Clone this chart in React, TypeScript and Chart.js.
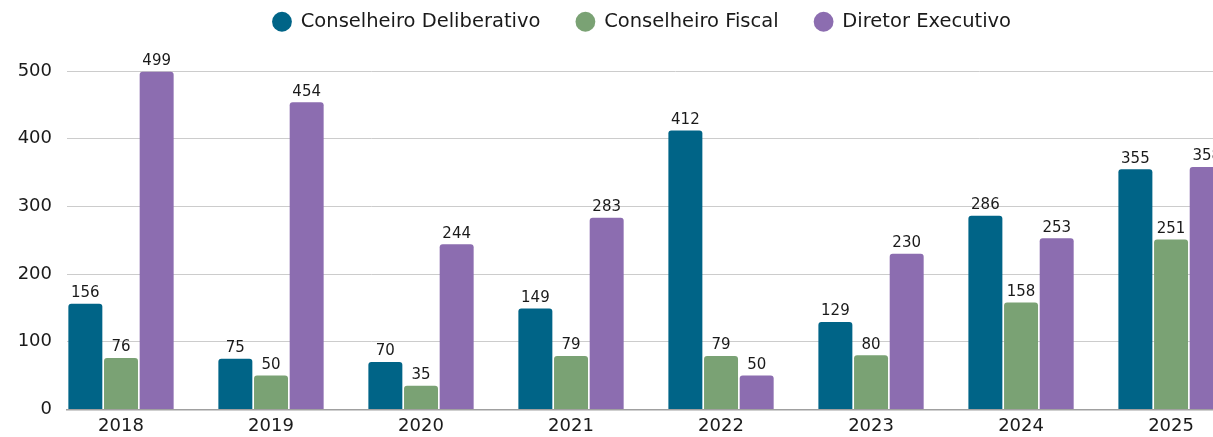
import React, { useEffect, useRef } from "react";
import { Chart, registerables } from "chart.js";

Chart.register(...registerables);

const years = ["2018", "2019", "2020", "2021", "2022", "2023", "2024", "2025"];
const seriesNames = ["Conselheiro Deliberativo", "Conselheiro Fiscal", "Diretor Executivo"];
const deliberativo = [156, 75, 70, 149, 412, 129, 286, 355];
const fiscal = [76, 50, 35, 79, 79, 80, 158, 251];
const executivo = [499, 454, 244, 283, 50, 230, 253, 358];
const yTicks = [0, 100, 200, 300, 400, 500];
const colors = ["#006487", "#7aa274", "#8c6db0"];

const FONT = "'DejaVu Sans', sans-serif";

const valueLabels = {
  id: "valueLabels",
  afterDatasetsDraw(chart: any) {
    const ctx = chart.ctx;
    ctx.save();
    ctx.font = `15px ${FONT}`;
    ctx.fillStyle = "#1a1a1a";
    ctx.textAlign = "center";
    ctx.textBaseline = "bottom";
    chart.data.datasets.forEach((ds: any, di: number) => {
      const meta = chart.getDatasetMeta(di);
      meta.data.forEach((el: any, i: number) => {
        ctx.fillText(String(ds.data[i].y), el.x, el.y - 3);
      });
    });
    ctx.restore();
  },
};

const legendSize = {
  id: "legendSize",
  afterInit(chart: any) {
    const legend = chart.legend;
    if (!legend) return;
    const fit = legend.fit;
    legend.fit = function () {
      fit.call(this);
      this.height = 95;
    };
  },
};

export default function App() {
  const ref = useRef<HTMLCanvasElement>(null);
  useEffect(() => {
    if (!ref.current) return;
    const series = [deliberativo, fiscal, executivo];
    const chart = new Chart(ref.current, {
      type: "bar",
      data: {
        datasets: series.map((vals, s) => ({
          label: seriesNames[s],
          data: vals.map((v, i) => ({ x: i, y: v })),
          backgroundColor: colors[s],
          borderRadius: 3,
          categoryPercentage: 0.713,
          barPercentage: 0.953,
        })),
      },
      options: {
        animation: false,
        responsive: true,
        maintainAspectRatio: false,
        layout: { padding: { top: -24, left: 0, right: 0, bottom: -6 } },
        plugins: {
          legend: {
            position: "top",
            labels: {
              usePointStyle: true,
              pointStyle: "circle",
              boxWidth: 18,
              boxHeight: 14,
              padding: 36,
              color: "#1a1a1a",
              font: { family: FONT, size: 19.5 },
            },
          },
          tooltip: { enabled: false },
        },
        scales: {
          x: {
            type: "linear",
            min: -0.36,
            max: 7.753,
            offset: false,
            afterBuildTicks: (scale: any) => {
              scale.ticks = years.map((_, i) => ({ value: i }));
            },
            ticks: {
              autoSkip: false,
              maxRotation: 0,
              padding: 6,
              color: "#1a1a1a",
              font: { family: FONT, size: 18 },
              callback: (v: any) => years[v] ?? "",
            },
            grid: { display: false, drawTicks: false },
            border: { display: true, color: "#a0a0a0", width: 1.5 },
          },
          y: {
            min: 0,
            max: 500,
            afterBuildTicks: (scale: any) => {
              scale.ticks = yTicks.map((v) => ({ value: v }));
            },
            afterFit: (scale: any) => {
              scale.width = 67;
            },
            ticks: {
              padding: 15,
              color: "#1a1a1a",
              font: { family: FONT, size: 18 },
            },
            grid: { color: "#cccccc", drawTicks: false, lineWidth: 1 },
            border: { display: false },
          },
        },
      },
      plugins: [valueLabels, legendSize],
    });
    return () => chart.destroy();
  }, []);
  return (
    <div style={{ position: "absolute", left: 0, top: 0, width: 1213, height: 437, overflow: "hidden" }}>
      <div style={{ position: "relative", width: 1284, height: 437 }}>
        <canvas ref={ref} />
      </div>
    </div>
  );
}
